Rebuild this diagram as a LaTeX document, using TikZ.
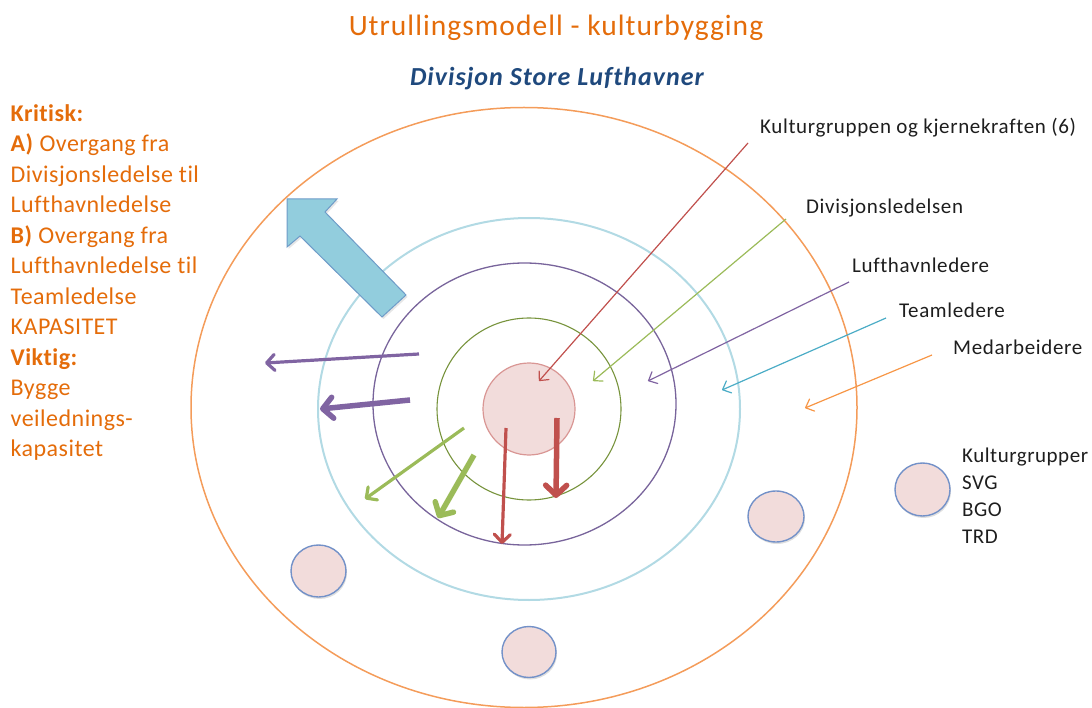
\documentclass[tikz,border=0pt]{standalone}
\usepackage{fontspec}
\setmainfont{Carlito}[Ligatures=NoCommon]
\usetikzlibrary{arrows.meta,shapes.geometric,shadows}
\definecolor{titleorange}{RGB}{228,108,10}
\definecolor{navy}{RGB}{31,73,125}
\definecolor{ringorange}{RGB}{244,156,90}
\definecolor{ringblue}{RGB}{178,218,228}
\definecolor{ringpurple}{RGB}{120,100,155}
\definecolor{ringgreen}{RGB}{119,147,60}
\definecolor{corefill}{RGB}{242,220,219}
\definecolor{coredraw}{RGB}{217,150,148}
\definecolor{ared}{RGB}{192,80,77}
\definecolor{agreen}{RGB}{155,187,89}
\definecolor{apurple}{RGB}{128,100,162}
\definecolor{acyan}{RGB}{75,172,198}
\definecolor{aorange}{RGB}{247,150,70}
\definecolor{bigblue}{RGB}{146,205,221}
\definecolor{bigblueedge}{RGB}{110,155,200}
\definecolor{grpedge}{RGB}{115,145,200}
\definecolor{labeltext}{RGB}{30,30,30}
\begin{document}
\begin{tikzpicture}[x=1pt,y=-1pt,
  ring/.style={ellipse, inner sep=0pt, outer sep=0pt},
  grp/.style={ellipse, inner sep=0pt, fill=corefill, draw=grpedge, line width=1.4pt,
    drop shadow={opacity=0.25, shadow xshift=1pt, shadow yshift=-2pt}},
  thinarrow/.style={line width=1.2pt, -{Straight Barb[length=7pt,width=13pt,round]}},
  thickA/.style={line width=3.2pt, -{Straight Barb[length=8pt,width=16pt,round]}},
  thickB/.style={line width=5.5pt, -{Straight Barb[length=10pt,width=21pt,round]}},
  lbl/.style={anchor=west, inner sep=0pt, text=labeltext,
    font=\fontsize{21}{25}\selectfont\addfontfeatures{LetterSpace=3}},
]
\useasboundingbox (0,0) rectangle (1092,708);

% titles
\node[font=\fontsize{29.5}{34}\selectfont\addfontfeatures{LetterSpace=3.5}, text=titleorange] (title) at (556,28) {Utrullingsmodell - kulturbygging};
\node[font=\fontsize{26}{30}\selectfont\bfseries\itshape\addfontfeatures{LetterSpace=4}, text=navy] (sub) at (557,79) {Divisjon Store Lufthavner};

% left text
\node[anchor=north west, inner sep=0pt, align=left, text=titleorange,
  font=\fontsize{24}{30.5}\selectfont\addfontfeatures{LetterSpace=2}] (left) at (10.5,104)
  {\textbf{Kritisk:}\\
   \textbf{A)} Overgang fra\\
   Divisjonsledelse til\\
   Lufthavnledelse\\
   \textbf{B)} Overgang fra\\
   Lufthavnledelse til\\
   Teamledelse\\
   KAPASITET\\
   \textbf{Viktig:}\\
   Bygge\\
   veilednings-\\
   kapasitet};

% rings
\node[ring, draw=ringorange, line width=1.5pt, minimum width=666pt, minimum height=600pt] (outer) at (524,407.5) {};
\node[ring, draw=ringblue, line width=2pt, minimum width=422pt, minimum height=382pt] (team) at (529,409) {};
\node[ring, draw=ringpurple, line width=1.3pt, minimum width=303pt, minimum height=282pt] (lufthavn) at (524.5,404) {};
\node[ring, draw=ringgreen, line width=1.1pt, minimum width=184pt, minimum height=182pt] (divisjon) at (529,409) {};
\node[ring, fill=corefill, draw=coredraw, line width=1.2pt, minimum width=92pt, minimum height=92pt] (core) at (529,409) {};

% big blue arrow
\draw[fill=bigblue, draw=bigblueedge, line width=1pt, line join=miter,
  drop shadow={opacity=0.2, shadow xshift=1.5pt, shadow yshift=-2pt}]
  (287,199) -- (337,199) -- (325,212) -- (406,295) -- (382,317) -- (300,236) -- (287,247) -- cycle;

% group circles
\node[grp, minimum width=55pt, minimum height=52pt] (g1) at (318.5,571) {};
\node[grp, minimum width=54pt, minimum height=51pt] (g2) at (529,652) {};
\node[grp, minimum width=56pt, minimum height=51pt] (g3) at (776,516.5) {};
\node[grp, minimum width=55pt, minimum height=53pt] (gl) at (922.5,489.5) {};

% labels
\node[lbl] (lk) at (760,128) {Kulturgruppen og kjernekraften (6)};
\node[lbl] (ld) at (806,208) {Divisjonsledelsen};
\node[lbl] (ll) at (852,265) {Lufthavnledere};
\node[lbl] (lt) at (899,310) {Teamledere};
\node[lbl] (lm) at (953,347) {Medarbeidere};
\node[anchor=north west, inner sep=0pt, align=left, text=labeltext,
  font=\fontsize{21}{27}\selectfont\addfontfeatures{LetterSpace=2.5}] (legend) at (962,447.5)
  {Kulturgrupper\\SVG\\BGO\\TRD};

% thin arrow coordinates
\coordinate (kS) at (748,143); \coordinate (kE) at (539,381);
\coordinate (dS) at (786,219); \coordinate (dE) at (593,381);
\coordinate (lS) at (849,282); \coordinate (lE) at (648,381);
\coordinate (tS) at (886,318); \coordinate (tE) at (722,390);
\coordinate (mS) at (932,355); \coordinate (mE) at (805,408);
\draw[thinarrow, ared] (kS) -- (kE);
\draw[thinarrow, agreen] (dS) -- (dE);
\draw[thinarrow, apurple] (lS) -- (lE);
\draw[thinarrow, acyan] (tS) -- (tE);
\draw[thinarrow, aorange] (mS) -- (mE);

% thick arrows
\coordinate (p1S) at (419,354); \coordinate (p1E) at (265,363);
\coordinate (p2S) at (410,400); \coordinate (p2E) at (320,409);
\coordinate (g1S) at (464,428); \coordinate (g1E) at (365,499);
\coordinate (g2S) at (474,455); \coordinate (g2E) at (438,518);
\coordinate (r1S) at (506,428); \coordinate (r1E) at (502,544);
\coordinate (r2S) at (557,418); \coordinate (r2E) at (556,498);
\draw[thickA, apurple] (p1S) -- (p1E);
\draw[thickB, apurple] (p2S) -- (p2E);
\draw[thickA, agreen] (g1S) -- (g1E);
\draw[thickB, agreen] (g2S) -- (g2E);
\draw[thickA, ared] (r1S) -- (r1E);
\draw[thickB, ared] (r2S) -- (r2E);
\end{tikzpicture}
\end{document}
